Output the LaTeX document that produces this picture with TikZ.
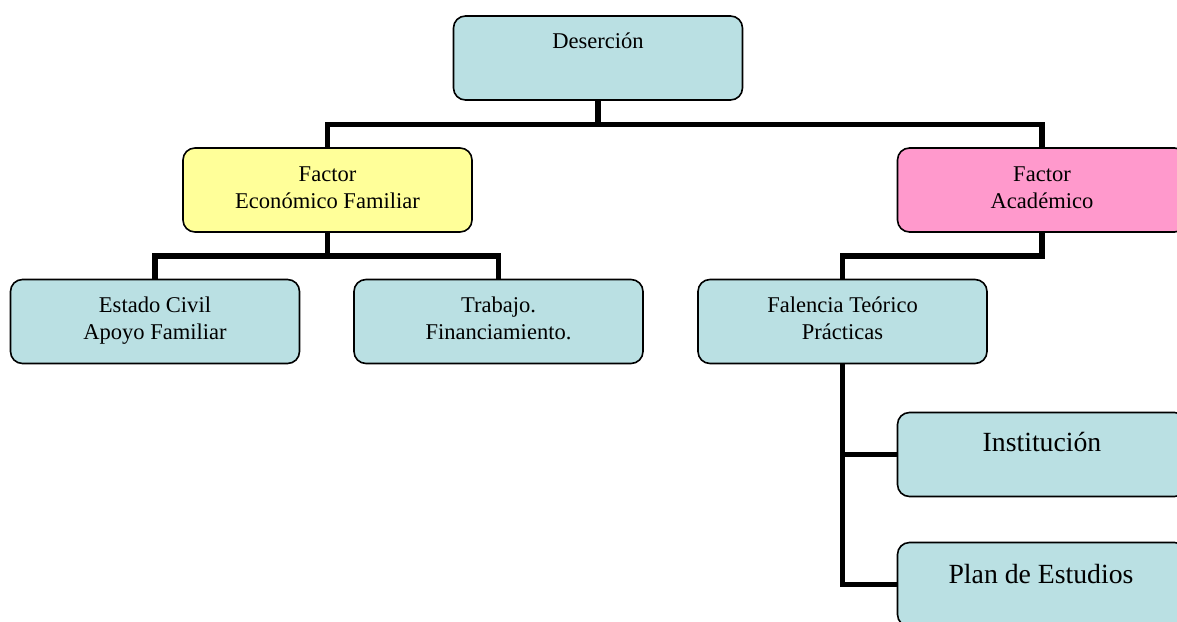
\documentclass[tikz,border=0pt]{standalone}
\usepackage{fontspec}
\setmainfont{Liberation Serif}
\usetikzlibrary{calc}
\definecolor{boxblue}{RGB}{186,224,227}
\definecolor{boxyellow}{RGB}{255,255,153}
\definecolor{boxpink}{RGB}{255,153,204}
\begin{document}
\begin{tikzpicture}[x=0.75pt,y=-0.75pt,
  box/.style={draw=black, line width=1.2pt, rounded corners=9pt, minimum width=216.75pt, minimum height=63pt, inner sep=0pt},
  conn/.style={line width=3.9pt, draw=black, line join=miter},
  txt/.style={font=\fontsize{16.9}{20.25}\selectfont, inner sep=0pt, align=center},
  bigtxt/.style={font=\fontsize{20.8}{25}\selectfont, inner sep=0pt}]
\useasboundingbox (0,0) rectangle (1177,621);
\clip (0,0) rectangle (1177,621);
% boxes
\node[box, fill=boxblue] (des) at (598,58) {};
\node[box, fill=boxyellow] (fe) at (327.5,190) {};
\node[box, fill=boxpink] (fa) at (1042,190) {};
\node[box, fill=boxblue] (ec) at (155,321.5) {};
\node[box, fill=boxblue] (tr) at (498.5,321.5) {};
\node[box, fill=boxblue] (fal) at (842.5,321.5) {};
\node[box, fill=boxblue] (inst) at (1042,454.5) {};
\node[box, fill=boxblue] (plan) at (1042,584.5) {};
% junctions
\coordinate (j1) at (598,124.5);
\coordinate (j2) at (327.5,256);
\coordinate (j3) at (1042,256);
% connectors
\draw[conn] (des.south) -- (j1) -| (fe.north);
\draw[conn] (j1) -| (fa.north);
\draw[conn] (fe.south) -- (j2) -| (ec.north);
\draw[conn] (j2) -| (tr.north);
\draw[conn] (fa.south) -- (j3) -| (fal.north);
\draw[conn] (fal.south) |- (inst.west);
\draw[conn] (fal.south) |- (plan.west);
% texts
\node[txt, anchor=base] (tdes) at (598,48) {Deserción};
\node[txt] (tfe) at (327.5,189.8) {\strut Factor\\\strut Económico Familiar};
\node[txt] (tfa) at (1042,189.3) {\strut Factor\\\strut Académico};
\node[txt] (tec) at (155,320.8) {\strut Estado Civil\\\strut Apoyo Familiar};
\node[txt] (ttr) at (498.5,320.8) {\strut Trabajo.\\\strut Financiamiento.};
\node[txt] (tfal) at (842.5,320.8) {\strut Falencia Teórico\\\strut Prácticas};
\node[bigtxt, anchor=base] (tinst) at (1042,451) {Institución};
\node[bigtxt, anchor=base] (tplan) at (1041,583) {Plan de Estudios};
\end{tikzpicture}
\end{document}
